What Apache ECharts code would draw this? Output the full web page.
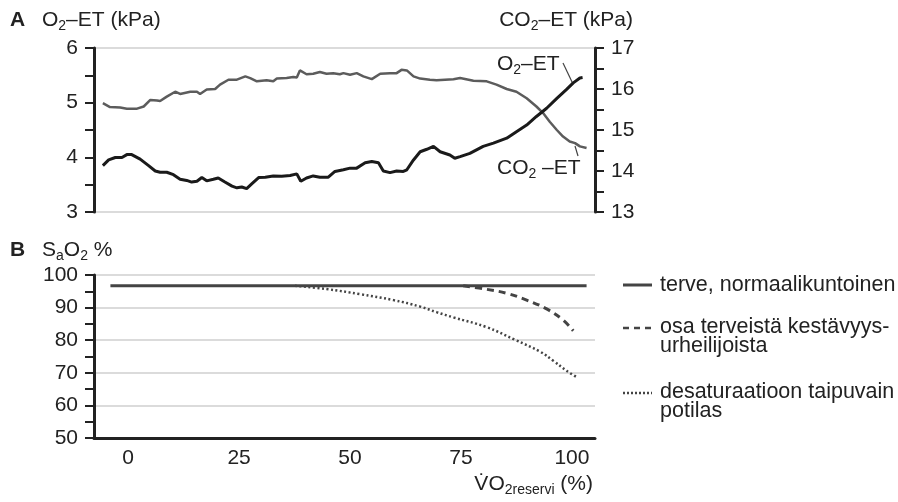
<!DOCTYPE html>
<html>
<head>
<meta charset="utf-8">
<script src="https://cdn.jsdelivr.net/npm/echarts@6.0.0/dist/echarts.min.js"></script>
<style>
  html, body { margin: 0; padding: 0; background: #fff; }
  #chart { width: 898px; height: 502px; }
</style>
</head>
<body>
<div id="chart"></div>
<script>
// ---------- data ----------
// panel A: x in % of VO2 reserve
const co2X = [-5.7, -4.1, -1.8, -0.3, 2.0, 3.5, 5.0, 6.5, 7.2, 8.7, 10.6, 11.7, 14.0, 15.5, 16.2, 17.7, 19.6, 20.7, 22.6, 24.5,
  26.4, 27.5, 29.0, 31.2, 32.7, 33.5, 35.7, 37.2, 38.0, 38.7, 40.2, 41.7, 43.2, 44.7, 46.2, 47.7, 48.5, 50.0, 51.5, 53.0,
  54.9, 56.8, 59.0, 60.5, 61.6, 62.8, 64.3, 65.8, 68.0, 69.5, 73.3, 74.8, 77.8, 80.8, 83.0, 85.3, 87.5, 89.8, 92.0, 93.5,
  95.0, 96.6, 98.0, 99.5, 100.7, 101.8, 103.3]
const co2Y = [4.99, 4.92, 4.91, 4.89, 4.89, 4.93, 5.05, 5.04, 5.03, 5.11, 5.20, 5.16, 5.20, 5.20, 5.16, 5.24, 5.25, 5.33, 5.42, 5.42,
  5.48, 5.45, 5.39, 5.41, 5.39, 5.44, 5.45, 5.47, 5.46, 5.59, 5.52, 5.53, 5.56, 5.53, 5.54, 5.52, 5.54, 5.51, 5.54, 5.48,
  5.43, 5.53, 5.54, 5.54, 5.60, 5.59, 5.48, 5.44, 5.42, 5.41, 5.43, 5.45, 5.40, 5.39, 5.33, 5.25, 5.20, 5.08, 4.93, 4.81,
  4.65, 4.50, 4.38, 4.29, 4.26, 4.20, 4.17]

const o2X = [-5.7, -4.4, -2.9, -1.4, -0.3, 0.8, 2.7, 4.6, 6.1, 7.2, 8.7, 10.2, 11.7, 13.2, 14.3, 15.5, 16.6, 17.7, 19.2, 20.3,
  21.8, 23.4, 24.5, 25.6, 26.7, 27.9, 29.4, 30.9, 32.7, 34.6, 36.5, 38.0, 38.9, 40.2, 41.7, 43.2, 45.1, 46.6, 48.5, 50.0,
  51.5, 53.4, 54.9, 56.4, 57.5, 59.0, 60.5, 62.0, 62.8, 64.3, 65.8, 67.3, 68.8, 70.3, 72.5, 73.6, 74.8, 77.0, 80.0, 82.3,
  85.3, 87.5, 89.8, 92.0, 94.3, 96.6, 98.8, 100.3, 101.8, 102.4]
const o2Y = [14.13, 14.27, 14.33, 14.33, 14.40, 14.40, 14.29, 14.13, 14.00, 13.97, 13.97, 13.91, 13.80, 13.77, 13.73, 13.75, 13.84, 13.76, 13.80, 13.83,
  13.73, 13.63, 13.59, 13.61, 13.57, 13.69, 13.84, 13.85, 13.88, 13.87, 13.89, 13.93, 13.75, 13.83, 13.88, 13.85, 13.85, 13.99, 14.03, 14.07,
  14.07, 14.20, 14.23, 14.20, 14.00, 13.96, 14.00, 13.99, 14.03, 14.27, 14.47, 14.53, 14.60, 14.47, 14.39, 14.31, 14.35, 14.43, 14.60, 14.68,
  14.80, 14.96, 15.12, 15.33, 15.53, 15.77, 15.99, 16.15, 16.27, 16.28]

// panel B: SaO2 %
const normalX = [-4.0, 103.3]
const normalY = [96.7, 96.7]
const athleteX = [75.5, 80.8, 85.3, 89.8, 94.3, 98.0, 100.3]
const athleteY = [96.7, 95.6, 94.4, 92.3, 89.6, 86.2, 82.9]
const patientX = [37.6, 44.7, 52.3, 59.8, 65.8, 69.5, 73.3, 80.8, 87.2, 92.8, 95.8, 98.8, 100.9]
const patientY = [96.7, 95.7, 94.1, 92.3, 90.3, 88.6, 87.0, 84.0, 80.1, 76.5, 73.7, 70.6, 68.8]

const xTicks = [0, 25, 50, 75, 100]
const legendNames = ['terve, normaalikuntoinen', 'osa terveistä kestävyys-\nurheilijoista', 'desaturaatioon taipuvain\npotilas']

const pairs = (xs, ys) => xs.map((x, i) => [x, ys[i]])

const FONT = '"Liberation Sans", Arial, sans-serif'
const INK = '#222'
const rich = {
  n: { fontSize: 21, fontFamily: FONT, color: INK },
  s: { fontSize: 14, fontFamily: FONT, color: INK, padding: [12, 0, 0, 0] },
}

const chart = echarts.init(document.getElementById('chart'))

const yBase = {
  axisLine: { show: true, onZero: false, lineStyle: { color: INK, width: 3 } },
  axisTick: { show: true, length: 9, lineStyle: { color: INK, width: 2 } },
  minorTick: { show: true, splitNumber: 2, length: 9, lineStyle: { color: INK, width: 2 } },
  axisLabel: { fontSize: 21, fontFamily: FONT, color: INK, margin: 16 },
}

function txt(x, y, text, extra) {
  return {
    type: 'text', x: x, y: y,
    style: Object.assign({ text: text, rich: rich, fontSize: 21, fontFamily: FONT, fill: INK, verticalAlign: 'middle' }, extra || {}),
  }
}
function seg(x1, y1, x2, y2, w, dash) {
  return {
    type: 'line',
    shape: { x1: x1, y1: y1, x2: x2, y2: y2 },
    style: { stroke: '#444', lineWidth: w, lineDash: dash || null },
  }
}

chart.setOption({
  animation: false,
  grid: [
    { left: 94, right: 303, top: 48, height: 164, show: true, borderColor: '#cfcfcf', borderWidth: 1.5 },
    { left: 94, right: 303, top: 275, height: 163 },
  ],
  xAxis: [
    { gridIndex: 0, type: 'value', min: -7.7, max: 105.2, show: false },
    {
      gridIndex: 1, type: 'value', min: -7.7, max: 105.2,
      axisLine: { show: true, onZero: false, lineStyle: { color: INK, width: 3 } },
      axisTick: { show: false },
      splitLine: { show: false },
      axisLabel: { customValues: xTicks, fontSize: 21, fontFamily: FONT, color: INK, margin: 10 },
    },
  ],
  yAxis: [
    Object.assign({ gridIndex: 0, type: 'value', min: 3, max: 6, interval: 1, splitLine: { show: false } }, yBase),
    Object.assign({ gridIndex: 0, type: 'value', position: 'right', min: 13, max: 17, interval: 1, splitLine: { show: false } }, yBase),
    Object.assign({
      gridIndex: 1, type: 'value', min: 50, max: 100, interval: 10,
      splitLine: { show: true, lineStyle: { color: '#cfcfcf', width: 1.5 } },
    }, yBase),
  ],
  series: [
    {
      name: 'CO2-ET', type: 'line', xAxisIndex: 0, yAxisIndex: 0, symbol: 'none',
      data: pairs(co2X, co2Y), lineStyle: { color: '#5c5c5c', width: 2.5 },
    },
    {
      name: 'O2-ET', type: 'line', xAxisIndex: 0, yAxisIndex: 1, symbol: 'none',
      data: pairs(o2X, o2Y), lineStyle: { color: '#1a1a1a', width: 3 },
    },
    {
      name: legendNames[2], type: 'line', xAxisIndex: 1, yAxisIndex: 2, symbol: 'none', smooth: 0.4,
      data: pairs(patientX, patientY), lineStyle: { color: '#444', width: 2.5, type: [2, 2.5] },
    },
    {
      name: legendNames[1], type: 'line', xAxisIndex: 1, yAxisIndex: 2, symbol: 'none', smooth: 0.4,
      data: pairs(athleteX, athleteY), lineStyle: { color: '#444', width: 3, type: [7, 5] },
    },
    {
      name: legendNames[0], type: 'line', xAxisIndex: 1, yAxisIndex: 2, symbol: 'none',
      data: pairs(normalX, normalY), lineStyle: { color: '#444', width: 3 },
    },
  ],
  graphic: [
    txt(10, 20, 'A', { fontWeight: 'bold' }),
    txt(42, 20, '{n|O}{s|2}{n|–ET (kPa)}'),
    txt(633, 20, '{n|CO}{s|2}{n|–ET (kPa)}', { align: 'right' }),
    txt(10, 250, 'B', { fontWeight: 'bold' }),
    txt(42, 250, '{n|S}{s|a}{n|O}{s|2}{n| %}'),
    txt(497, 64, '{n|O}{s|2}{n|–ET}'),
    txt(497, 168, '{n|CO}{s|2}{n| –ET}'),
    seg(563, 63, 573, 84, 1.2),
    seg(575, 146, 578, 156, 1.2),
    txt(593, 484, '{n|V̇O}{s|2reservi}{n| (%)}', { align: 'right' }),
    // legend
    seg(623, 285, 652, 285, 3),
    seg(623, 328, 652, 328, 2.5, [6, 5]),
    seg(623, 393, 652, 393, 2.5, [2, 2]),
    txt(660, 285, legendNames[0], { fontSize: 21.5 }),
    txt(660, 318, legendNames[1], { verticalAlign: 'top', lineHeight: 19, fontSize: 21.5 }),
    txt(660, 383, legendNames[2], { verticalAlign: 'top', lineHeight: 19, fontSize: 21.5 }),
  ],
})
</script>
</body>
</html>
